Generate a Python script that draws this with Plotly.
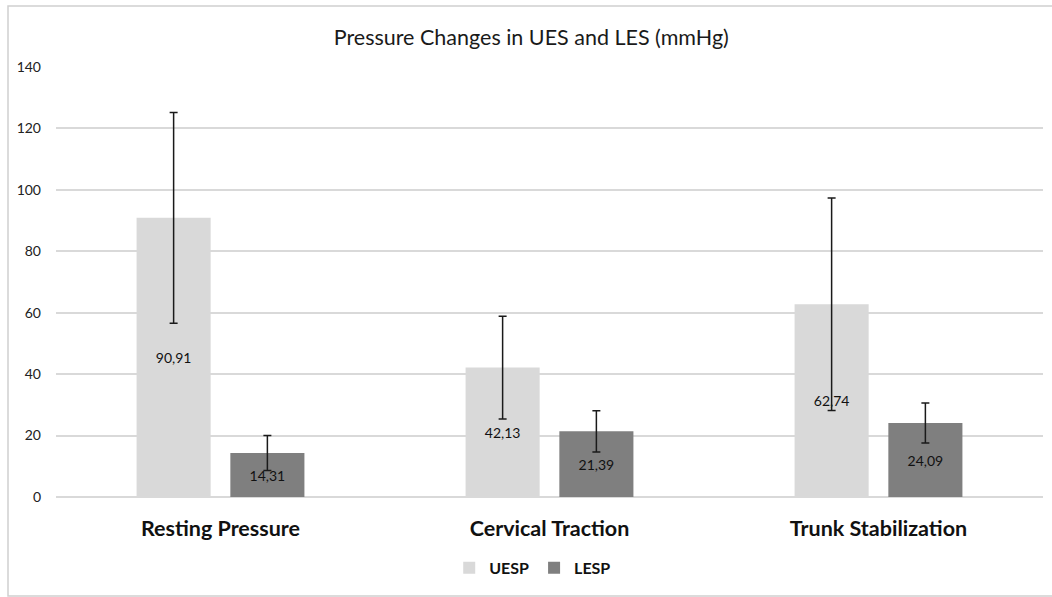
import plotly.graph_objects as go

categories = ["Resting Pressure", "Cervical Traction", "Trunk Stabilization"]
uesp = [90.91, 42.13, 62.74]
lesp = [14.31, 21.39, 24.09]
uesp_err = [34.3, 16.7, 34.6]
lesp_err = [5.7, 6.7, 6.5]
y_ticks = [0, 20, 40, 60, 80, 100, 120, 140]

def fmt(v):
    return f"{v:.2f}".replace(".", ",")

FONT = "Lato, Open Sans, sans-serif"

fig = go.Figure()
fig.add_trace(go.Bar(
    name="UESP", x=categories, y=uesp,
    marker=dict(color="#d9d9d9", line=dict(width=0)),
    error_y=dict(type="data", array=uesp_err, visible=True, color="#1a1a1a", thickness=1.5, width=4),
    text=[fmt(v) for v in uesp], textposition="inside", insidetextanchor="middle",
    textfont=dict(size=14, color="#111111", family=FONT),
))
fig.add_trace(go.Bar(
    name="LESP", x=categories, y=lesp,
    marker=dict(color="#7f7f7f", line=dict(width=0)),
    error_y=dict(type="data", array=lesp_err, visible=True, color="#1a1a1a", thickness=1.5, width=4),
    text=[fmt(v) for v in lesp], textposition="inside", insidetextanchor="middle",
    textfont=dict(size=14, color="#111111", family=FONT),
))

fig.update_layout(
    width=1052, height=597,
    paper_bgcolor="white", plot_bgcolor="white",
    margin=dict(l=56, r=9, t=67, b=100, autoexpand=False),
    barmode="group", bargap=0.43, bargroupgap=0.21,
    title=dict(text="Pressure Changes in UES and LES (mmHg)", x=0.505, xanchor="center",
               y=1 - 37/597, yanchor="middle",
               font=dict(size=21.5, color="#1a1a1a", family=FONT)),
    legend=dict(orientation="h", x=0.483, xanchor="center", y=-0.165, yanchor="middle",
                font=dict(size=16, color="#111111", family=FONT, weight="bold"),
                itemwidth=30, traceorder="normal"),
    uniformtext=dict(mode=False),
    shapes=[dict(type="rect", xref="paper", yref="paper",
                 x0=-48/987, x1=1 + 30/987, y0=-99/430, y1=1 + 61/430,
                 line=dict(color="#d0d0d0", width=1.5))],
)
fig.update_xaxes(
    showline=False, showgrid=False, ticks="",
    tickfont=dict(size=21.5, color="#111111", family=FONT, weight="bold"),
    ticklabelstandoff=16,
)
fig.update_yaxes(
    range=[0, 140], tickvals=y_ticks, showgrid=True, gridcolor="#d9d9d9", gridwidth=1.5,
    zeroline=True, zerolinecolor="#d9d9d9", zerolinewidth=1.5, showline=False,
    tickfont=dict(size=14, color="#222222", family=FONT), ticklabelstandoff=14,
)

fig.write_html("out.html", config={"displayModeBar": False},
               post_script="document.body.style.margin='0';document.body.style.overflow='hidden';")
